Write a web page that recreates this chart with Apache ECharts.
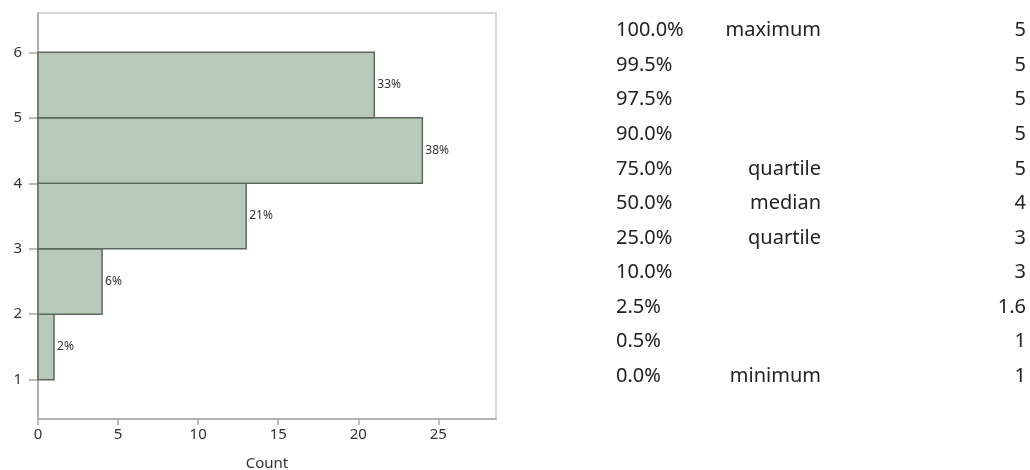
<!DOCTYPE html>
<html>
<head>
<meta charset="utf-8">
<script src="https://cdn.jsdelivr.net/npm/echarts@6/dist/echarts.min.js"></script>
<style>
  html, body { margin: 0; padding: 0; background: #fff; }
  #main { width: 1030px; height: 470px; }
</style>
</head>
<body>
<div id="main"></div>
<script>
// histogram bins (value axis) and counts
var binStart = [1, 2, 3, 4, 5];
var binEnd = [2, 3, 4, 5, 6];
var counts = [1, 4, 13, 24, 21];
var pctLabels = ['2%', '6%', '21%', '38%', '33%'];
var yTicks = [1, 2, 3, 4, 5, 6];
var xTicks = [0, 5, 10, 15, 20, 25];

// quantiles table
var qLevels = ['100.0%', '99.5%', '97.5%', '90.0%', '75.0%', '50.0%', '25.0%', '10.0%', '2.5%', '0.5%', '0.0%'];
var qNames = ['maximum', '', '', '', 'quartile', 'median', 'quartile', '', '', '', 'minimum'];
var qValues = ['5', '5', '5', '5', '5', '4', '3', '3', '1.6', '1', '1'];

var font = '"Noto Sans", "Open Sans", sans-serif';

var chart = echarts.init(document.getElementById('main'), null, { renderer: 'canvas' });

var histData = binStart.map(function (s, i) {
  return [s, binEnd[i], counts[i], pctLabels[i]];
});

// table drawn as graphic text
var tableGraphics = [];
var rowTop = 30.7, rowStep = 34.53;
qLevels.forEach(function (lv, i) {
  var y = rowTop + i * rowStep;
  tableGraphics.push({
    type: 'text', x: 616, y: y,
    style: { text: lv, font: '20px ' + font, fill: '#222', align: 'left', verticalAlign: 'middle' }
  });
  if (qNames[i]) {
    tableGraphics.push({
      type: 'text', x: 821, y: y,
      style: { text: qNames[i], font: '20px ' + font, fill: '#222', align: 'right', verticalAlign: 'middle' }
    });
  }
  tableGraphics.push({
    type: 'text', x: 1026, y: y,
    style: { text: qValues[i], font: '20px ' + font, fill: '#222', align: 'right', verticalAlign: 'middle' }
  });
});

var option = {
  backgroundColor: '#ffffff',
  animation: false,
  textStyle: { fontFamily: font },
  grid: {
    left: 38, top: 13, width: 458, height: 406,
    show: true, borderColor: '#c9c9c9', borderWidth: 1.5,
    containLabel: false,
    outerBoundsMode: 'none'
  },
  xAxis: {
    type: 'value',
    min: 0, max: 28.6,
    name: 'Count',
    nameLocation: 'middle',
    nameGap: 37,
    nameTextStyle: { fontSize: 15, color: '#333' },
    axisLine: { show: true, onZero: false, lineStyle: { color: '#a6a6a6', width: 1.5 } },
    axisTick: { show: true, length: 6, customValues: xTicks, lineStyle: { color: '#a6a6a6', width: 1.5 } },
    axisLabel: { customValues: xTicks, fontSize: 15, color: '#333', margin: 8 },
    splitLine: { show: false }
  },
  yAxis: {
    type: 'value',
    min: 0.4, max: 6.6,
    axisLine: { show: true, onZero: false, lineStyle: { color: '#a6a6a6', width: 1.5 } },
    axisTick: { show: true, length: 9, customValues: yTicks, lineStyle: { color: '#a6a6a6', width: 1.5 } },
    axisLabel: { customValues: yTicks, fontSize: 15, color: '#333', margin: 16 },
    splitLine: { show: false }
  },
  graphic: tableGraphics,
  series: [{
    type: 'custom',
    encode: { x: 2, y: [0, 1] },
    data: histData,
    renderItem: function (params, api) {
      var lo = api.value(0), hi = api.value(1), cnt = api.value(2);
      var p0 = api.coord([0, lo]);
      var p1 = api.coord([cnt, hi]);
      return {
        type: 'group',
        children: [{
          type: 'rect',
          shape: { x: p0[0], y: p1[1], width: p1[0] - p0[0], height: p0[1] - p1[1] },
          style: { fill: '#b9cabb', stroke: '#5b695c', lineWidth: 1.5 }
        }, {
          type: 'text',
          x: p1[0] + 3,
          y: (p0[1] + p1[1]) / 2,
          style: {
            text: histData[params.dataIndex][3],
            font: '12px ' + font,
            fill: '#333',
            align: 'left',
            verticalAlign: 'middle'
          }
        }]
      };
    }
  }]
};

chart.setOption(option);
</script>
</body>
</html>
